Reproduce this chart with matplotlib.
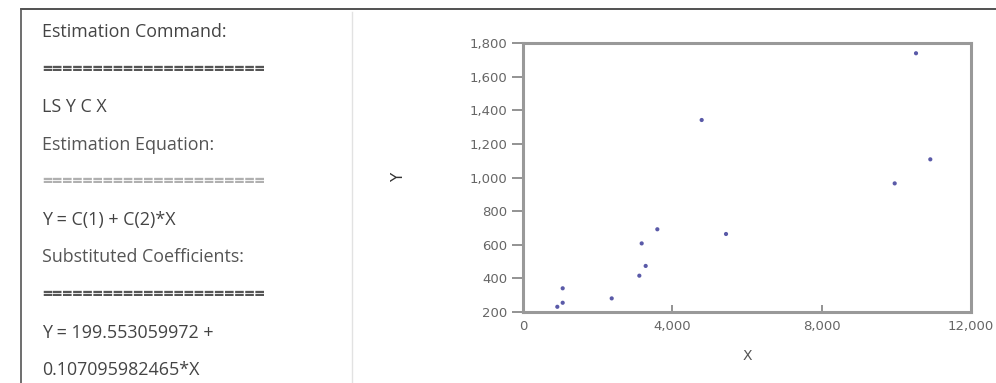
import matplotlib
matplotlib.use("Agg")
import matplotlib.pyplot as plt
from matplotlib.lines import Line2D

# Data
x_vals = [919, 1063, 1063, 2376, 3116, 3286, 3179, 3598, 4786, 5438, 10527, 10910, 9956]
y_vals = [231, 255, 341, 281, 416, 474, 608, 692, 1342, 664, 1739, 1108, 965]

x_ticks = [0, 4000, 8000, 12000]
x_tick_labels = ["0", "4,000", "8,000", "12,000"]
y_ticks = [200, 400, 600, 800, 1000, 1200, 1400, 1600, 1800]
y_tick_labels = ["200", "400", "600", "800", "1,000", "1,200", "1,400", "1,600", "1,800"]

text_lines = [
    "Estimation Command:",
    "=" * 22,
    "LS Y C X",
    "Estimation Equation:",
    "=" * 22,
    "Y = C(1) + C(2)*X",
    "Substituted Coefficients:",
    "=" * 22,
    "Y = 199.553059972 +",
    "0.107095982465*X",
]
text_colors = ["#444444", "#555555", "#444444", "#555555", "#b0b0b0",
               "#444444", "#555555", "#555555", "#444444", "#444444"]

W, H = 996, 383
fig = plt.figure(figsize=(W / 100, H / 100), dpi=100)
fig.patch.set_facecolor("white")

# frame lines
fig.add_artist(Line2D([21 / W, 1], [1 - 9 / H, 1 - 9 / H], color="#333333", lw=1.2))
fig.add_artist(Line2D([21 / W, 21 / W], [0, 1 - 9 / H], color="#555555", lw=1.2))
fig.add_artist(Line2D([352 / W, 352 / W], [0, 1 - 12 / H], color="#e2e2e2", lw=1.0))

# text panel
ys = [32, 70, 107, 145, 182, 220, 257, 295, 333, 370]
for t, yy, c in zip(text_lines, ys, text_colors):
    fig.text(42 / W, 1 - yy / H, t, ha="left", va="center", fontsize=12.9,
             family="Open Sans", color=c,
             fontweight="bold" if t.startswith("=") else "normal")

# chart axes
left, right, top, bottom = 523, 971, 43, 312
ax = fig.add_axes([left / W, 1 - bottom / H, (right - left) / W, (bottom - top) / H])
ax.scatter(x_vals, y_vals, s=9, color="#5a5aa8", edgecolors="none", zorder=3)
ax.set_xlim(0, 12000)
ax.set_ylim(200, 1800)
ax.set_xticks(x_ticks)
ax.set_xticklabels(x_tick_labels)
ax.set_yticks(y_ticks)
ax.set_yticklabels(y_tick_labels)
for s in ax.spines.values():
    s.set_color("#999999")
    s.set_linewidth(2.2)
ax.tick_params(axis="y", direction="out", length=8, width=1.2, color="#808080",
               labelsize=9.5, labelcolor="#666666", pad=3)
ax.tick_params(axis="x", direction="in", length=5, width=1.2, color="#808080",
               labelsize=9.5, labelcolor="#666666", pad=6)
for lab in ax.get_xticklabels() + ax.get_yticklabels():
    lab.set_family("DejaVu Sans")
ax.set_xlabel("X", fontsize=10, color="#555555", labelpad=11)
ax.set_ylabel("Y", fontsize=11, color="#333333", rotation=90)
ax.yaxis.set_label_coords(-0.26, 0.5)

fig.savefig("out.png", dpi=100, facecolor="white")
